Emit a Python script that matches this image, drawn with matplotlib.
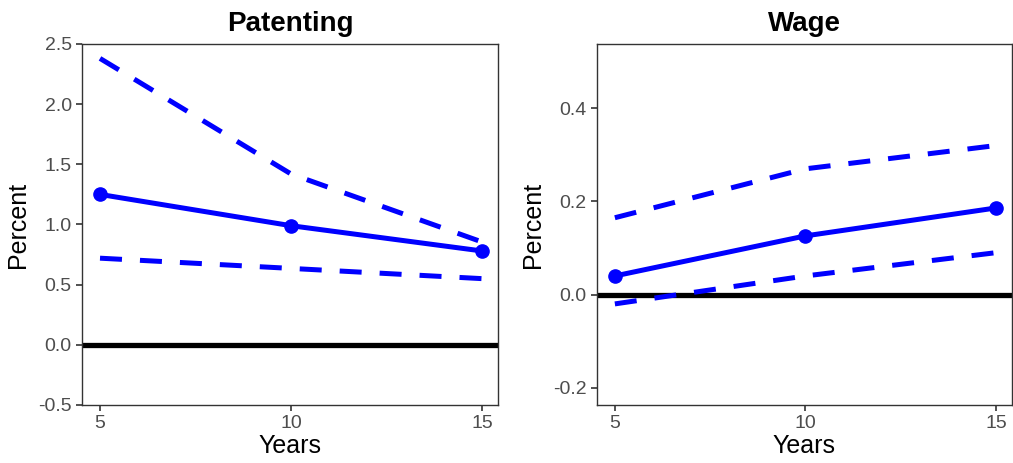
import matplotlib
matplotlib.use("Agg")
import matplotlib.pyplot as plt

plt.rcParams['font.family'] = ['Liberation Sans', 'DejaVu Sans']

years = [5, 10, 15]

# Patenting
pat_est = [1.25, 0.99, 0.78]
pat_hi = [2.38, 1.42, 0.855]
pat_lo = [0.72, 0.635, 0.55]

# Wage
wage_est = [0.04, 0.126, 0.186]
wage_hi = [0.165, 0.27, 0.32]
wage_lo = [-0.02, 0.04, 0.09]

panels = [
    ("Patenting", pat_est, pat_hi, pat_lo, (-0.5, 2.5), [-0.5, 0, 0.5, 1.0, 1.5, 2.0, 2.5]),
    ("Wage", wage_est, wage_hi, wage_lo, (-0.237, 0.538), [-0.2, 0.0, 0.2, 0.4]),
]

fig = plt.figure(figsize=(10.13, 4.63), dpi=100)
positions = [[0.081, 0.1253, 0.4106, 0.7797], [0.5893, 0.1253, 0.4097, 0.7797]]

blue = "#0000FF"
for pos, (title, est, hi, lo, ylim, yticks) in zip(positions, panels):
    ax = fig.add_axes(pos)
    ax.axhline(0, color="black", lw=3.8, zorder=1)
    ax.plot(years, hi, color=blue, lw=3.6, linestyle=(0, (4.4, 3.6)), zorder=2)
    ax.plot(years, lo, color=blue, lw=3.6, linestyle=(0, (4.4, 3.6)), zorder=2)
    ax.plot(years, est, color=blue, lw=3.6, marker="o", markersize=9.5, zorder=3)
    ax.set_xlim(4.53, 15.42)
    ax.set_ylim(*ylim)
    ax.set_xticks(years)
    ax.set_yticks(yticks)
    ax.set_yticklabels([f"{t:.1f}" for t in yticks])
    ax.tick_params(colors="#333333", labelcolor="#4d4d4d", labelsize=14, length=4, width=1.2)
    for s in ax.spines.values():
        s.set_color("#333333")
        s.set_linewidth(1.0)
    ax.set_title(title, fontsize=20, fontweight="bold", pad=9)
    ax.set_xlabel("Years", fontsize=18, labelpad=1)
    ax.set_ylabel("Percent", fontsize=18, labelpad=6)

fig.savefig("out.png", dpi=100)
